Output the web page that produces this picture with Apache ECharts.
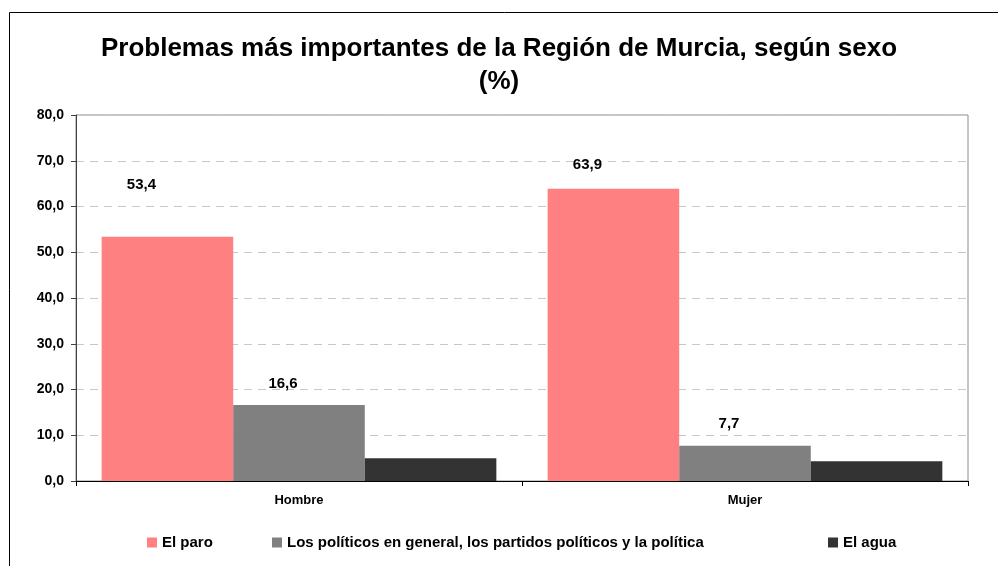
<!DOCTYPE html>
<html>
<head>
<meta charset="utf-8">
<script src="https://cdn.jsdelivr.net/npm/echarts@6/dist/echarts.min.js"></script>
<style>
  html, body { margin: 0; padding: 0; background: #fff; }
  #box { width: 998px; height: 566px; }
</style>
</head>
<body>
<div id="box"></div>
<script>
var categories = ['Hombre', 'Mujer'];
var seriesNames = ['El paro', 'Los políticos en general, los partidos políticos y la política', 'El agua'];
var paro = [53.4, 63.9];
var politicos = [16.6, 7.7];
var agua = [5.0, 4.3];
var yTicks = [0, 10, 20, 30, 40, 50, 60, 70, 80];

var colors = ['#ff8080', '#808080', '#333333'];
var font = 'Liberation Sans, Arial, sans-serif';

function fmt(v) {
    return v.toFixed(1).replace('.', ',');
}

var legendLeft = [147, 272, 828];   // posiciones de cada entrada de leyenda
var legendTextStyle = {
    fontFamily: font,
    fontSize: 15,
    fontWeight: 'bold',
    color: '#000'
};

var myChart = echarts.init(document.getElementById('box'));

var option = {
    animation: false,
    backgroundColor: '#ffffff',
    title: {
        text: 'Problemas más importantes de la Región de Murcia, según sexo\n(%)',
        left: 'center',
        top: 27,
        textStyle: {
            fontFamily: font,
            fontSize: 26,
            fontWeight: 'bold',
            color: '#000',
            lineHeight: 33
        }
    },
    graphic: [
        {
            type: 'rect',
            shape: { x: 9.5, y: 12.5, width: 1000, height: 600 },
            style: { fill: 'none', stroke: '#000', lineWidth: 1 }
        }
    ],
    legend: seriesNames.map(function (name, i) {
        return {
            data: [name],
            left: legendLeft[i],
            top: 535,
            padding: 0,
            itemWidth: 10,
            itemHeight: 10,
            itemGap: 8,
            icon: 'rect',
            textStyle: legendTextStyle
        };
    }),
    grid: {
        left: 76,
        right: 30,
        top: 115,
        bottom: 85,
        show: true,
        borderColor: '#8c8c8c',
        borderWidth: 1
    },
    xAxis: {
        type: 'category',
        data: categories,
        axisLine: { lineStyle: { color: '#000', width: 1 } },
        axisTick: { show: true, length: 5, lineStyle: { color: '#000' } },
        axisLabel: {
            fontFamily: font,
            fontSize: 13,
            fontWeight: 'bold',
            color: '#000',
            margin: 13
        }
    },
    yAxis: {
        type: 'value',
        min: yTicks[0],
        max: yTicks[yTicks.length - 1],
        interval: 10,
        axisLine: { show: true, lineStyle: { color: '#404040' } },
        axisTick: { show: true, length: 5, lineStyle: { color: '#404040' } },
        axisLabel: {
            fontFamily: font,
            fontSize: 14,
            fontWeight: 'bold',
            color: '#000',
            margin: 12,
            formatter: function (v) { return fmt(v); }
        },
        splitLine: {
            show: true,
            lineStyle: { color: '#c8c8c8', type: [8, 6], width: 1 }
        }
    },
    series: [
        {
            name: seriesNames[0],
            type: 'bar',
            barGap: '0%',
            barCategoryGap: '11.5%',
            itemStyle: { color: colors[0] },
            data: paro.map(function (v, i) {
                return { value: v, label: { distance: i === 0 ? 44 : 16 } };
            }),
            label: {
                show: true,
                position: 'top',
                offset: [-26, 0],
                fontFamily: font,
                fontSize: 15,
                fontWeight: 'bold',
                color: '#000',
                formatter: function (p) { return fmt(p.value); }
            }
        },
        {
            name: seriesNames[1],
            type: 'bar',
            itemStyle: { color: colors[1] },
            data: politicos,
            label: {
                show: true,
                position: 'top',
                distance: 14,
                offset: [-16, 0],
                fontFamily: font,
                fontSize: 15,
                fontWeight: 'bold',
                color: '#000',
                formatter: function (p) { return fmt(p.value); }
            }
        },
        {
            name: seriesNames[2],
            type: 'bar',
            itemStyle: { color: colors[2] },
            data: agua
        }
    ]
};

myChart.setOption(option);
</script>
</body>
</html>
